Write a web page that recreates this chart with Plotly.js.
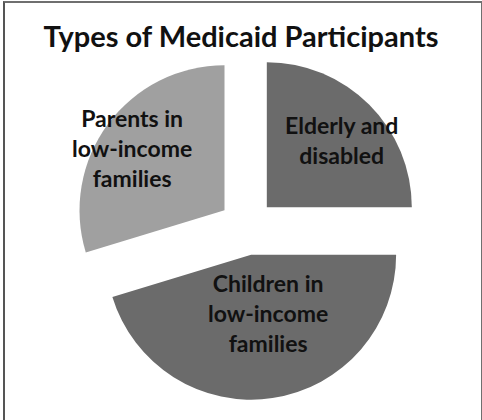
<!DOCTYPE html>
<html>
<head>
<meta charset="utf-8">
<script src="https://cdn.plot.ly/plotly-3.0.1.min.js"></script>
<style>
  html, body { margin: 0; padding: 0; background: #ffffff; }
  #wrap { position: relative; width: 482px; height: 420px; overflow: hidden; }
  #chart { width: 482px; height: 420px; }
  #frame { position: absolute; left: 3px; top: 1px; width: 476px; height: 440px;
           border-top: 2px solid #6f6f6f; border-left: 2px solid #555555; border-right: 2px solid #6f6f6f;
           pointer-events: none; }
</style>
</head>
<body>
<div id="wrap">
  <div id="chart"></div>
  <div id="frame"></div>
</div>
<script>
// ---- data ----
var categories = ["Elderly and disabled", "Children in low-income families", "Parents in low-income families"];
var labelText = ["Elderly and<br>disabled", "Children in<br>low-income<br>families", "Parents in<br>low-income<br>families"];
var shares = [25, 45.3, 29.7];
var sliceColors = ["#6b6b6b", "#6b6b6b", "#a0a0a0"];
var chartTitle = "Types of Medicaid Participants";

// ---- layout helpers ----
var W = 482, H = 420;
var M = {l: 74, r: 62, t: 54, b: 20};
var PW = W - M.l - M.r, PH = H - M.t - M.b;
function px2paperX(px) { return (px - M.l) / PW; }
function px2paperY(py) { return 1 - (py - M.t) / PH; }

var labelPos = [[341, 140], [268, 313], [132, 148]];
var annotations = labelText.map(function (t, i) {
  return {
    text: t, showarrow: false, xref: "paper", yref: "paper",
    x: px2paperX(labelPos[i][0]), y: px2paperY(labelPos[i][1]),
    xanchor: "center", yanchor: "middle", align: "center",
    font: {family: "Lato, 'Open Sans', sans-serif", size: 23, color: "#111111", weight: "bold"}
  };
});

var trace = {
  type: "pie",
  labels: categories,
  values: shares,
  sort: false,
  direction: "clockwise",
  rotation: 0,
  pull: [0.193, 0.193, 0.193],
  marker: {colors: sliceColors, line: {width: 0}},
  textinfo: "none",
  hoverinfo: "label+percent",
  showlegend: false
};

var layout = {
  width: W, height: H,
  margin: M,
  paper_bgcolor: "#ffffff",
  plot_bgcolor: "#ffffff",
  showlegend: false,
  title: {
    text: "<b>" + chartTitle + "</b>",
    font: {family: "Lato, 'Open Sans', sans-serif", size: 29, color: "#111111"},
    x: 0.5, xref: "container", xanchor: "center",
    y: 1 - 37 / H, yref: "container", yanchor: "middle"
  },
  annotations: annotations
};

Plotly.newPlot("chart", [trace], layout, {staticPlot: true, displayModeBar: false});
</script>
</body>
</html>
